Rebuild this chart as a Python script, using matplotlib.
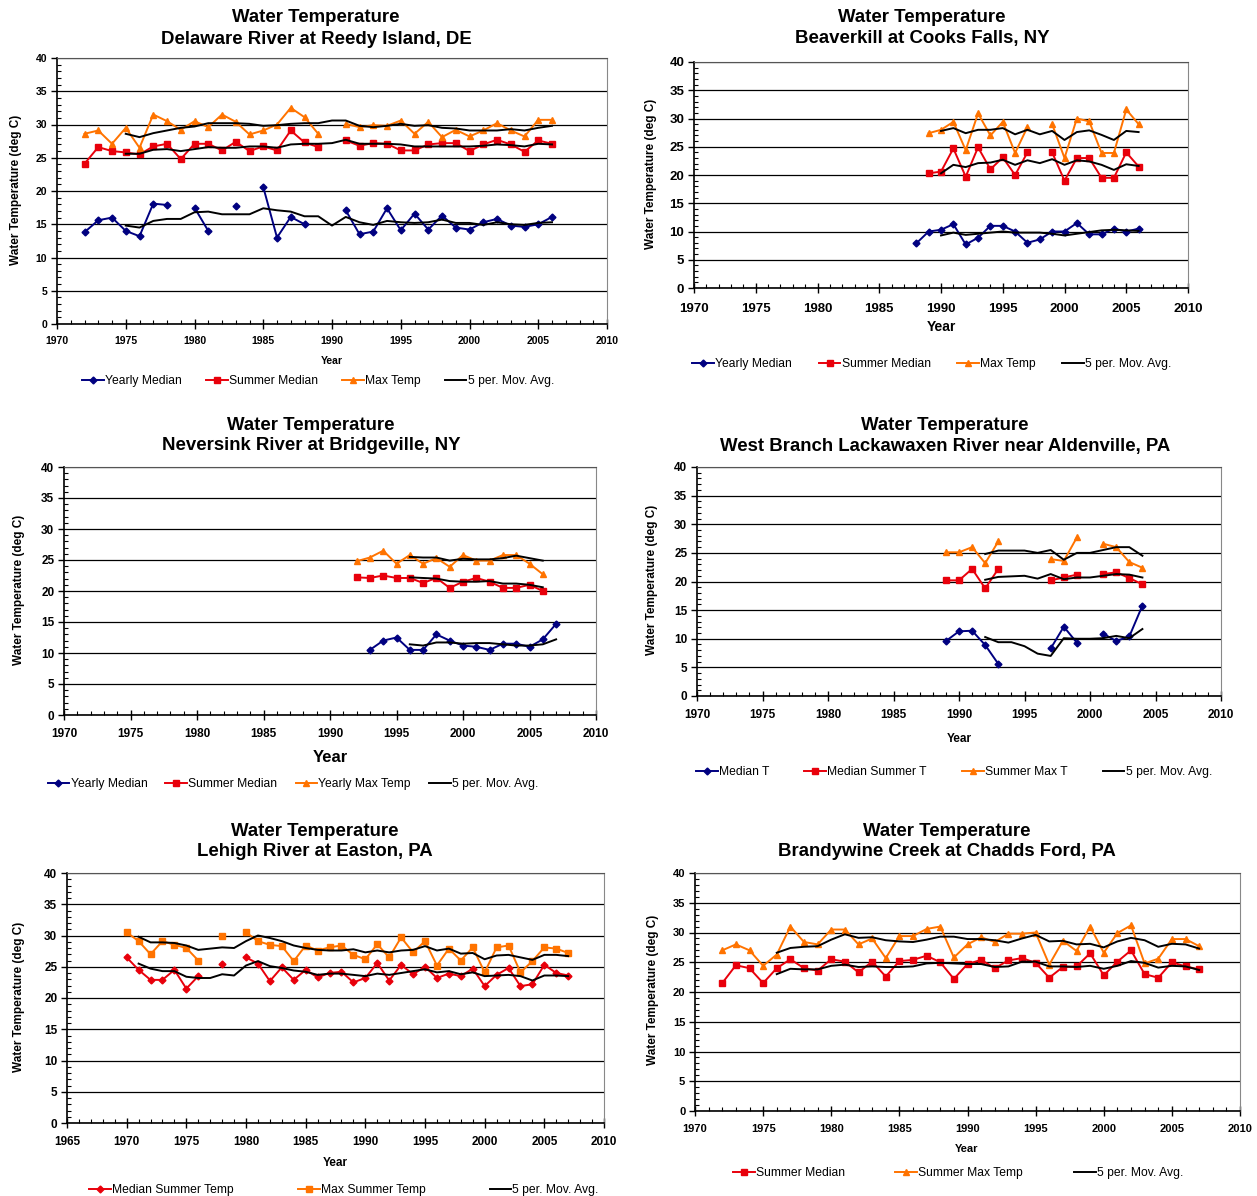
import numpy as np
import matplotlib
matplotlib.use("Agg")
import matplotlib.pyplot as plt
from matplotlib.ticker import MultipleLocator

plt.rcParams['font.family'] = ['Liberation Sans', 'DejaVu Sans']

nan = np.nan
NAVY, RED, ORANGE = '#000080', '#E8000B', '#FF7300'

#### Delaware River at Reedy Island, DE ####
p1_years = np.arange(1972, 2007)
p1_yearly = [13.8, 15.6, 16.0, 14.0, 13.2, 18.1, 17.9, nan, 17.5, 14.0, nan, 17.8, nan, 20.6, 13.0, 16.1, 15.0, nan,
             nan, 17.1, 13.5, 13.9, 17.4, 14.1, 16.6, 14.2, 16.3, 14.5, 14.2, 15.3, 15.8, 14.8, 14.6, 15.0, 16.1]
p1_summer = [24.1, 26.6, 26.0, 25.8, 25.5, 26.7, 27.1, 24.8, 27.1, 27.1, 26.1, 27.4, 26.0, 26.7, 26.1, 29.1, 27.3, 26.6,
             nan, 27.6, 26.8, 27.2, 27.1, 26.1, 26.1, 27.0, 27.2, 27.2, 26.0, 27.0, 27.7, 27.0, 25.9, 27.6, 27.1]
p1_max = [28.6, 29.1, 27.1, 29.5, 26.5, 31.5, 30.5, 29.2, 30.5, 29.6, 31.5, 30.4, 28.5, 29.1, 30.0, 32.5, 31.1, 28.6,
          nan, 30.1, 29.6, 29.9, 29.8, 30.6, 28.6, 30.4, 28.1, 29.2, 28.2, 29.1, 30.2, 29.1, 28.2, 30.7, 30.7]
p1_ma_years = np.arange(1975, 2007)
p1_ma_yearly = [14.8, 14.5, 15.5, 15.8, 15.8, 16.8, 16.9, 16.5, 16.5, 16.5, 17.4, 17.1, 16.9, 16.2, 16.2, 14.8,
                16.1, 15.3, 14.9, 15.5, 15.3, 15.2, 15.3, 15.7, 15.2, 15.2, 14.9, 15.3, 15.0, 14.9, 15.2, 15.3]
p1_ma_summer = [25.6, 25.6, 26.2, 26.3, 26.0, 26.3, 26.6, 26.5, 26.5, 26.7, 26.7, 26.5, 27.0, 27.1, 27.1, 27.2,
                27.7, 27.1, 27.1, 27.1, 27.0, 26.7, 26.7, 26.7, 26.7, 26.7, 26.8, 27.0, 26.9, 26.7, 27.1, 27.0]
p1_ma_max = [28.6, 28.1, 28.7, 29.1, 29.5, 29.7, 30.2, 30.2, 30.2, 30.1, 29.8, 29.9, 30.1, 30.2, 30.2, 30.6,
             30.6, 29.8, 29.6, 29.8, 30.1, 29.8, 29.9, 29.5, 29.4, 29.1, 29.1, 29.1, 29.3, 29.1, 29.5, 29.8]

#### Beaverkill at Cooks Falls, NY ####
p2_years = np.arange(1988, 2007)
p2_yearly = [7.9, 10.0, 10.3, 11.3, 7.7, 8.9, 11.0, 11.0, 10.0, 8.0, 8.6, 10.0, 10.0, 11.5, 9.5, 9.5, 10.5, 10.0, 10.5]
p2_summer = [nan, 20.3, 20.6, 24.7, 19.7, 24.9, 21.0, 23.1, 20.0, 24.0, nan, 24.0, 19.0, 23.0, 23.0, 19.5, 19.5, 24.0, 21.5]
p2_max = [nan, 27.4, 28.0, 29.4, 24.4, 30.9, 27.0, 29.4, 23.9, 28.5, nan, 29.0, 23.0, 30.0, 29.5, 23.9, 23.9, 31.6, 29.0]
p2_ma_years = np.arange(1990, 2007)
p2_ma_yearly = [9.3, 9.8, 9.4, 9.6, 9.8, 10.0, 9.8, 9.8, 9.8, 9.6, 9.3, 9.6, 9.9, 10.2, 10.3, 10.2, 10.1]
p2_ma_summer = [20.3, 21.8, 21.4, 22.1, 22.2, 22.7, 21.8, 22.6, 22.1, 22.8, 21.8, 22.6, 22.4, 21.8, 20.9, 21.9, 21.6]
p2_ma_max = [27.8, 28.3, 27.4, 28.0, 28.0, 28.3, 27.2, 28.0, 27.2, 27.8, 26.2, 27.6, 27.9, 27.1, 26.2, 27.8, 27.6]

#### Neversink River at Bridgeville, NY ####
p3_years = np.arange(1992, 2008)
p3_yearly = [nan, 10.5, 12.0, 12.5, 10.5, 10.5, 13.0, 12.0, 11.2, 11.0, 10.5, 11.5, 11.5, 11.0, 12.2, 14.7]
p3_summer = [22.2, 22.1, 22.5, 22.1, 22.1, 21.3, 22.1, 20.5, 21.5, 22.1, 21.5, 20.5, 20.5, 21.0, 20.0, nan]
p3_max = [24.8, 25.4, 26.5, 24.4, 25.8, 24.4, 25.3, 23.9, 25.8, 24.9, 24.9, 25.8, 25.8, 24.4, 22.7, nan]
p3_ma_years = np.arange(1996, 2008)
p3_ma_yearly = [11.4, 11.2, 11.7, 11.7, 11.5, 11.6, 11.6, 11.4, 11.2, 11.2, 11.4, 12.2]
p3_ma_years2 = np.arange(1996, 2007)
p3_ma_summer = [22.2, 22.1, 22.0, 21.6, 21.5, 21.5, 21.6, 21.2, 21.2, 21.0, 20.6]
p3_ma_max = [25.5, 25.4, 25.4, 24.9, 25.2, 25.1, 25.1, 25.3, 25.7, 25.3, 24.9]

#### West Branch Lackawaxen River near Aldenville, PA ####
p4_years = np.arange(1989, 2005)
p4_yearly = [9.6, 11.3, 11.4, 8.9, 5.6, nan, nan, nan, 8.3, 12.1, 9.3, nan, 10.9, 9.6, 10.4, 15.8]
p4_summer = [20.2, 20.2, 22.2, 18.8, 22.2, nan, nan, nan, 20.2, 20.7, 21.2, nan, 21.3, 21.6, 20.6, 19.5]
p4_max = [25.1, 25.1, 26.0, 23.2, 27.0, nan, nan, nan, 23.9, 23.6, 27.7, nan, 26.6, 26.0, 23.4, 22.4]
p4_ma_years = np.arange(1992, 2005)
p4_ma_yearly = [10.3, 9.4, 9.4, 8.7, 7.4, 7.0, 10.1, 10.0, 10.0, 10.1, 10.5, 10.1, 11.7]
p4_ma_summer = [20.3, 20.8, 20.9, 21.0, 20.5, 21.3, 20.4, 20.7, 20.7, 21.0, 21.3, 21.2, 20.7]
p4_ma_max = [24.8, 25.4, 25.4, 25.4, 25.0, 25.5, 23.8, 25.0, 25.0, 25.5, 26.0, 26.0, 24.5]

#### Lehigh River at Easton, PA ####
p5_years = np.arange(1970, 2008)
p5_median = [26.5, 24.5, 22.9, 22.9, 24.5, 21.5, 23.5, nan, 25.5, nan, 26.5, 25.5, 22.7, 24.9, 22.9, 24.5, 23.3, 24.0, 24.2,
             22.5, 23.2, 25.6, 22.8, 25.3, 23.8, 25.0, 23.2, 23.9, 23.5, 24.7, 21.9, 23.7, 24.8, 21.9, 22.2, 25.3, 24.0, 23.6]
p5_max = [30.5, 29.1, 27.0, 29.1, 28.5, 28.0, 26.0, nan, 30.0, nan, 30.5, 29.1, 28.5, 28.3, 25.9, 28.4, 27.6, 28.1, 28.4,
          26.9, 26.2, 28.6, 26.5, 29.7, 27.3, 29.1, 25.2, 27.9, 26.0, 28.1, 24.1, 28.1, 28.4, 24.1, 25.9, 28.1, 27.9, 27.2]
p5_ma_years = np.arange(1971, 2008)
p5_ma_median = [25.5, 24.7, 24.3, 24.3, 23.4, 23.2, 23.2, 23.8, 23.6, 25.2, 25.9, 25.1, 24.8, 24.4, 24.2, 23.7, 23.9,
                23.9, 23.7, 23.5, 23.9, 23.7, 24.0, 24.3, 24.6, 24.1, 24.3, 23.8, 24.1, 23.5, 23.6, 23.7, 23.5, 22.8,
                23.6, 23.6, 23.5]
p5_ma_max = [29.8, 28.9, 28.9, 28.8, 28.4, 27.7, 27.9, 28.1, 28.0, 29.1, 30.0, 29.6, 29.1, 28.4, 28.0, 27.7, 27.6,
             27.6, 27.8, 27.3, 27.6, 27.3, 27.6, 27.7, 28.3, 27.6, 27.9, 27.1, 27.2, 26.2, 26.8, 26.9, 26.5, 26.1,
             26.9, 26.9, 26.7]

#### Brandywine Creek at Chadds Ford, PA ####
p6_years = np.arange(1972, 2008)
p6_summer = [21.5, 24.5, 24.0, 21.5, 24.0, 25.5, 24.0, 23.6, 25.5, 25.1, 23.3, 25.1, 22.6, 25.2, 25.4, 26.1, 25.0, 22.2,
             24.7, 25.4, 24.0, 25.3, 25.7, 24.9, 22.4, 24.2, 24.3, 26.5, 22.8, 25.1, 27.0, 23.0, 22.4, 25.0, 24.3, 23.8]
p6_max = [27.0, 28.0, 27.0, 24.4, 26.3, 31.0, 28.4, 28.0, 30.5, 30.5, 28.0, 29.0, 25.7, 29.4, 29.4, 30.6, 31.0, 25.8,
          28.0, 29.2, 28.4, 29.8, 29.8, 30.0, 24.6, 28.6, 26.9, 31.0, 26.6, 29.9, 31.2, 24.8, 25.6, 28.9, 28.9, 27.7]
p6_ma_years = np.arange(1976, 2008)
p6_ma_summer = [23.0, 23.9, 23.8, 23.8, 24.4, 24.6, 24.2, 24.3, 24.2, 24.2, 24.3, 24.8, 24.9, 24.8, 24.7, 24.7,
                24.2, 24.3, 25.1, 25.1, 24.3, 24.3, 24.2, 24.4, 23.9, 24.4, 25.2, 24.9, 24.1, 24.4, 24.3, 23.7]
p6_ma_max = [26.6, 27.4, 27.6, 27.7, 28.8, 29.7, 29.1, 29.2, 28.7, 28.5, 28.4, 28.8, 29.3, 29.3, 28.9, 28.9,
             28.7, 28.3, 29.0, 29.6, 28.5, 28.6, 28.0, 28.1, 27.5, 28.5, 29.1, 28.7, 27.6, 28.1, 28.0, 27.3]


W, H = 1257, 1196
fig = plt.figure(figsize=(W / 100, H / 100), dpi=100)


def fx(x): return x / W
def fy(y): return 1 - y / H


#### One Excel-style panel, boxes given in pixels ####
def panel(box, xlim, site, series, mas, title_x, title_y, tick_fs, xpad, year_xy, year_fs,
          ylab_xy, leg_xy, colspace):
    l, t, r, b = box
    ax = fig.add_axes([fx(l), fy(b), (r - l) / W, (b - t) / H])
    handles = []
    for yrs, vals, color, marker, ms, label in series:
        h, = ax.plot(yrs, vals, color=color, marker=marker, ms=ms, mec=color, mfc=color,
                     lw=1.4, label=label, zorder=3)
        handles.append(h)
    for i, (yrs, vals) in enumerate(mas):
        h, = ax.plot(yrs, vals, color='black', lw=1.4, zorder=4, label='5 per. Mov. Avg.')
        if i == 0:
            handles.append(h)

    ax.set_xlim(xlim); ax.set_ylim(0, 40)
    ax.xaxis.set_major_locator(MultipleLocator(5)); ax.xaxis.set_minor_locator(MultipleLocator(1))
    ax.yaxis.set_major_locator(MultipleLocator(5)); ax.yaxis.set_minor_locator(MultipleLocator(1))
    ax.yaxis.grid(True, which='major', color='black', lw=0.9, zorder=1)
    ax.set_axisbelow(True)
    ax.tick_params(axis='x', which='major', direction='inout', length=7, width=1, pad=xpad,
                   labelsize=tick_fs)
    ax.tick_params(axis='x', which='minor', direction='in', length=3, width=0.8)
    ax.tick_params(axis='y', which='major', direction='out', length=4, width=1, pad=3,
                   labelsize=tick_fs)
    ax.tick_params(axis='y', which='minor', direction='in', length=3, width=0.8)
    for lab in ax.get_xticklabels() + ax.get_yticklabels():
        lab.set_fontweight('bold')
    ax.spines['right'].set_color('#888888')
    ax.spines['top'].set_color('#555555')
    ax.spines['left'].set_linewidth(1.2); ax.spines['bottom'].set_linewidth(1.2)

    fig.text(fx(title_x), fy(title_y), "Water Temperature", ha='center', va='center',
             fontsize=13.4, fontweight='bold')
    fig.text(fx(title_x), fy(title_y + 21), site, ha='center', va='center',
             fontsize=13.4, fontweight='bold')
    fig.text(fx(year_xy[0]), fy(year_xy[1]), "Year", ha='center', va='center',
             fontsize=year_fs, fontweight='bold')
    fig.text(fx(ylab_xy[0]), fy(ylab_xy[1]), "Water Temperature (deg C)", ha='center',
             va='center', rotation=90, fontsize=8.5, fontweight='bold')
    fig.legend(handles=handles, loc='center', bbox_to_anchor=(fx(leg_xy[0]), fy(leg_xy[1])),
               ncol=len(handles), frameon=False, fontsize=8.7, handlelength=1.8,
               handletextpad=0.1, columnspacing=colspace, numpoints=1)
    return ax


panel((57, 58, 607, 324), (1970, 2010), "Delaware River at Reedy Island, DE",
      [(p1_years, p1_yearly, NAVY, 'D', 3.5, "Yearly Median"),
       (p1_years, p1_summer, RED, 's', 4.5, "Summer Median"),
       (p1_years, p1_max, ORANGE, '^', 5, "Max Temp")],
      [(p1_ma_years, p1_ma_yearly), (p1_ma_years, p1_ma_summer), (p1_ma_years, p1_ma_max)],
      316, 18, 7.5, 5, (332, 361), 7.5, (16, 190), (318, 381), 2.0)

panel((694, 62, 1188, 288), (1970, 2010), "Beaverkill at Cooks Falls, NY",
      [(p2_years, p2_yearly, NAVY, 'D', 3.5, "Yearly Median"),
       (p2_years, p2_summer, RED, 's', 4.5, "Summer Median"),
       (p2_years, p2_max, ORANGE, '^', 5, "Max Temp")],
      [(p2_ma_years, p2_ma_yearly), (p2_ma_years, p2_ma_summer), (p2_ma_years, p2_ma_max)],
      922, 18, 9.5, 7, (941, 327), 10, (651, 174), (932, 364), 2.2)

panel((64, 467, 596, 715), (1970, 2010), "Neversink River at Bridgeville, NY",
      [(p3_years, p3_yearly, NAVY, 'D', 3.5, "Yearly Median"),
       (p3_years, p3_summer, RED, 's', 4.5, "Summer Median"),
       (p3_years, p3_max, ORANGE, '^', 5, "Yearly Max Temp")],
      [(p3_ma_years, p3_ma_yearly), (p3_ma_years2, p3_ma_summer), (p3_ma_years2, p3_ma_max)],
      311, 425, 8.5, 6, (330, 757), 12, (19, 590), (293, 784), 1.5)

panel((697, 467, 1221, 696), (1970, 2010), "West Branch Lackawaxen River near Aldenville, PA",
      [(p4_years, p4_yearly, NAVY, 'D', 3.5, "Median T"),
       (p4_years, p4_summer, RED, 's', 4.5, "Median Summer T"),
       (p4_years, p4_max, ORANGE, '^', 5, "Summer Max T")],
      [(p4_ma_years, p4_ma_yearly), (p4_ma_years, p4_ma_summer), (p4_ma_years, p4_ma_max)],
      945, 425, 8.5, 6, (959, 739), 8.5, (652, 580), (954, 772), 2.9)

panel((67, 873, 604, 1123), (1965, 2010), "Lehigh River at Easton, PA",
      [(p5_years, p5_median, RED, 'D', 3.5, "Median Summer Temp"),
       (p5_years, p5_max, ORANGE, 's', 4.5, "Max Summer Temp")],
      [(p5_ma_years, p5_ma_median), (p5_ma_years, p5_ma_max)],
      315, 831, 8.5, 6, (335, 1163), 8.5, (19, 997), (344, 1190), 5.3)

panel((695, 873, 1240, 1111), (1970, 2010), "Brandywine Creek at Chadds Ford, PA",
      [(p6_years, p6_summer, RED, 's', 4.5, "Summer Median"),
       (p6_years, p6_max, ORANGE, '^', 5, "Summer Max Temp")],
      [(p6_ma_years, p6_ma_summer), (p6_ma_years, p6_ma_max)],
      947, 831, 8, 6, (967, 1149), 8, (653, 990), (958, 1173), 4.2)

fig.savefig("out.png", dpi=100)
